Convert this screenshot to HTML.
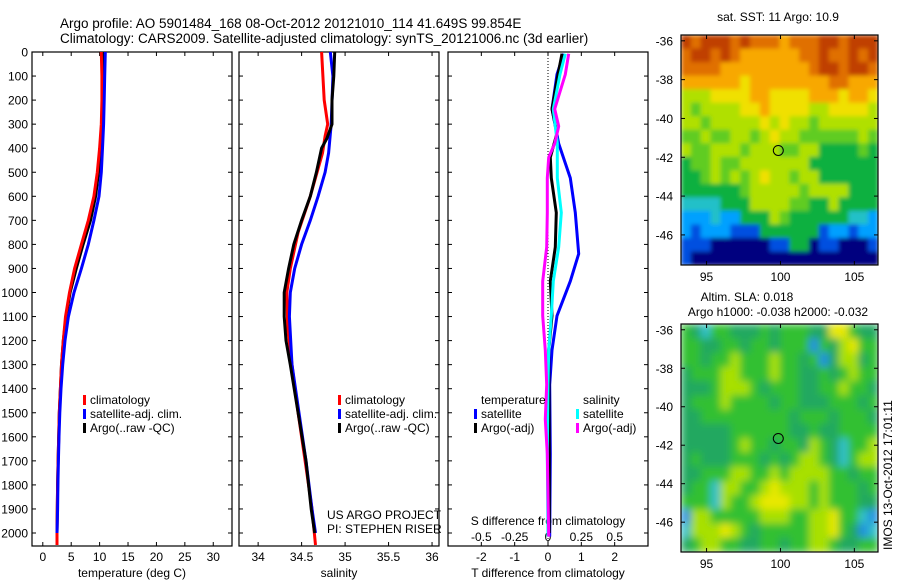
<!DOCTYPE html>
<html><head><meta charset="utf-8"><style>
html,body{margin:0;padding:0;background:#fff}
svg{display:block;font-family:"Liberation Sans",Arial,sans-serif}
</style></head><body>
<svg id="fig" width="900" height="580" viewBox="0 0 900 580" xmlns="http://www.w3.org/2000/svg">
<defs>
<filter id="blurSST" x="0" y="0" width="1" height="1"><feGaussianBlur stdDeviation="2"/></filter>
<filter id="blurSLA" x="0" y="0" width="1" height="1"><feGaussianBlur stdDeviation="4"/></filter>
<clipPath id="clipSST"><rect x="681" y="35" width="197" height="230"/></clipPath>
<clipPath id="clipSLA"><rect x="681" y="324" width="197" height="228"/></clipPath>
</defs>
<text x="60" y="28" font-size="13.5">Argo profile: AO 5901484_168 08-Oct-2012 20121010_114 41.649S 99.854E</text>
<text x="60" y="43" font-size="13.5">Climatology: CARS2009. Satellite-adjusted climatology: synTS_20121006.nc (3d earlier)</text>
<g id="g"></g>
</svg>
<script>
// ---------- data ----------
const tDepth=[0,100,200,300,400,500,600,700,800,900,1000,1100,1200,1300,1400,1500,1600,1700,1800,1900,2000,2050];
const tClim=[10.3,10.4,10.4,10.3,10.0,9.6,9.0,8.0,6.8,5.6,4.7,4.0,3.6,3.3,3.1,2.9,2.8,2.7,2.6,2.55,2.5,2.5];
const tSat=[11.0,10.9,10.8,10.7,10.5,10.3,9.9,9.0,8.0,6.8,5.5,4.5,3.9,3.5,3.2,3.0,2.85,2.75,2.65,2.6,2.5];
const tArgo=[10.6,10.7,10.6,10.5,10.2,9.8,9.3,8.4,7.1,5.9,4.8,4.1,3.6,3.3,3.1,2.9,2.8,2.7,2.6,2.55,2.5];
const sClimDepth=[0,200,300,350,420,600,750,900,1000,1150,1300,1500,1700,1900,2050];
const sClim=[34.73,34.76,34.80,34.77,34.74,34.60,34.46,34.37,34.33,34.34,34.39,34.46,34.54,34.62,34.66];
const sSatDepth=[0,100,300,420,500,600,700,800,900,1000,1100,1300,1500,1700,1900,2000];
const sSat=[34.83,34.86,34.84,34.81,34.77,34.69,34.60,34.50,34.42,34.37,34.36,34.39,34.47,34.55,34.62,34.66];
const sArgoDepth=[0,100,200,300,360,400,500,600,700,800,900,1000,1100,1200,1300,1500,1700,1900,2000];
const sArgo=[34.88,34.87,34.85,34.85,34.79,34.73,34.67,34.60,34.50,34.41,34.35,34.30,34.30,34.32,34.37,34.46,34.55,34.61,34.65];
const dTDepth=[7,93,237,381,524,668,839,953,1097,1240,1383,1670,2015];
const dTSat=[0.47,0.27,0.12,0.32,0.67,0.82,0.92,0.67,0.27,0.12,0.05,0.07,0.05];
const dTArgoDepth=[7,93,237,338,438,524,668,811,953,1097,1240,1383,1670,2000];
const dTArgo=[0.42,0.30,0.12,0.27,0.07,0.10,0.25,0.22,0.07,0.12,0.02,0.03,0.04,0.04];
const dSDepth=[7,93,237,381,524,668,811,953,1097,1240,1383,1670,2015];
const dSSat=[0.13,0.09,0.04,0.07,0.07,0.10,0.08,0.04,0.025,0.005,0,-0.005,0];
const dSArgoDepth=[7,93,237,309,381,438,524,668,811,953,1097,1240,1383,1527,1670,2015];
const dSArgo=[0.155,0.13,0.05,0.08,0.05,0.005,-0.005,-0.005,-0.01,-0.04,-0.04,-0.02,-0.01,-0.02,-0.005,0.005];
const depthTicks=[0,100,200,300,400,500,600,700,800,900,1000,1100,1200,1300,1400,1500,1600,1700,1800,1900,2000];
const tTicks=[0,5,10,15,20,25,30];
const sTicks=[34,34.5,35,35.5,36];
const dTTicks=[-2,-1,0,1,2];
const dSTicks=[-0.5,-0.25,0,0.25,0.5];
const latTicks=[-36,-38,-40,-42,-44,-46];
const lonTicks=[95,100,105];
const sstGrid=["a9aaa9a9998999aa9aaa","9aa9a988888899a99a9a","99998888888889aa9aa9","88888878888888899888","66677778877778887887","65666677877776677776","66566666767665666666","55655665676655555565","65566656665566444454","45565566666664444444","44565656766566444444","44444456666656666444","33334446666554464444","22232244465444444332","21222111444444122122","11100000011440110001","10000000000000000000"];
const slaGrid=["54355444545554477544","55445545545552546755","55455655565545246645","45556655565544545655","44456665455544556554","45556555545544455545","44555555555455545554","44444555555445445555","44444565545546543556","45444555454566543566","44555665565666655455","45536655676665655545","55536556777665655544","26655555666556675532","36667654555556675423","45665544554556654455"];
const argoLon=99.854, argoLat=-41.649;

// ---------- helpers ----------
const NS='http://www.w3.org/2000/svg';
const G=document.getElementById('g');
function mk(tag,attrs,parent){const e=document.createElementNS(NS,tag);for(const k in attrs)e.setAttribute(k,attrs[k]);(parent||G).appendChild(e);return e;}
function txt(x,y,s,size,anchor,parent){const e=mk('text',{x:x,y:y,'font-size':size||12,'text-anchor':anchor||'start'},parent);e.textContent=s;return e;}
const Y0=52,Y1=546,DMAX=2054;
const yD=d=>Y0+d*(Y1-Y0)/DMAX;
function lin(d0,d1,p0,p1){return v=>p0+(v-d0)*(p1-p0)/(d1-d0);}
const xT=lin(-1.9,33.3,32,232);
const xS=lin(33.78,36.08,239,439);
const xDT=lin(-3,3,448,648);
const xDS=v=>xDT(v*4);

function panel(name,x0,x1,xticks,xf,showY){
  const g=mk('g',{});
  
  
  mk('rect',{x:x0,y:Y0,width:x1-x0,height:Y1-Y0,fill:'none',stroke:'#000','stroke-width':1.2},g);
  depthTicks.forEach(d=>{const y=yD(d);
    mk('line',{x1:x0,y1:y,x2:x0+4,y2:y,stroke:'#000'},g);
    mk('line',{x1:x1,y1:y,x2:x1-4,y2:y,stroke:'#000'},g);
    if(showY){const t=txt(28,y+4.5,String(d),12,'end',g);}
  });
  xticks.forEach(v=>{const x=xf(v);
    mk('line',{x1:x,y1:Y0,x2:x,y2:Y0+4,stroke:'#000'},g);
    mk('line',{x1:x,y1:Y1,x2:x,y2:Y1-4,stroke:'#000'},g);
    const t=txt(x,561,String(v),12,'middle',g);
    
    
  });
  return g;
}
function series(name,depths,vals,xf,color){
  const pts=vals.map((v,i)=>xf(v).toFixed(1)+','+yD(depths[i]).toFixed(1)).join(' ');
  const p=mk('polyline',{points:pts,fill:'none',stroke:color,'stroke-width':3,'stroke-linejoin':'miter'});
  
  
}
function legend(items,x,y0){
  items.forEach((it,i)=>{const y=y0+i*14;
    const r=mk('rect',{x:x,y:y-9,width:3,height:10,fill:it[1]});
    
    
    const t=txt(x+7,y,it[0],12);
    
    
  });
}

// Panel 1 temperature
panel('temperature-panel',32,232,tTicks,xT,true);
let t=txt(132,577,'temperature (deg C)',12,'middle');
series('temp-argo-line',tDepth.slice(0,tArgo.length),tArgo,xT,'#000');
series('temp-climatology-line',tDepth,tClim,xT,'#f00');
series('temp-satellite-line',tDepth.slice(0,tSat.length),tSat,xT,'#00f');
legend([['climatology','#f00'],['satellite-adj. clim.','#00f'],['Argo(..raw -QC)','#000']],83,404);

// Panel 2 salinity
panel('salinity-panel',239,439,sTicks,xS,false);
t=txt(339,577,'salinity',12,'middle');
series('sal-climatology-line',sClimDepth,sClim,xS,'#f00');
series('sal-satellite-line',sSatDepth,sSat,xS,'#00f');
series('sal-argo-line',sArgoDepth,sArgo,xS,'#000');
legend([['climatology','#f00'],['satellite-adj. clim.','#00f'],['Argo(..raw -QC)','#000']],338,404);
t=txt(327,519,'US ARGO PROJECT',12);
t=txt(327,533,'PI: STEPHEN RISER',12);

// Panel 3 differences
panel('difference-panel',448,648,dTTicks,xDT,false);
mk('line',{x1:xDT(0),y1:Y0,x2:xDT(0),y2:Y1,stroke:'#000','stroke-dasharray':'1,2','stroke-width':1});
t=txt(548,577,'T difference from climatology',12,'middle');
t=txt(548,525,'S difference from climatology',12,'middle');
dSTicks.forEach(v=>{const e=txt(xDS(v),541,String(v),12,'middle');});
series('tdiff-satellite-line',dTDepth,dTSat,xDT,'#00f');
series('tdiff-argo-line',dTArgoDepth,dTArgo,xDT,'#000');
series('sdiff-satellite-line',dSDepth,dSSat,xDS,'#0ff');
series('sdiff-argo-line',dSArgoDepth,dSArgo,xDS,'#f0f');
t=txt(481,404,'temperature',12);
t=txt(583,404,'salinity',12);
legend([['satellite','#00f'],['Argo(-adj)','#000']],474,418);
legend([['satellite','#0ff'],['Argo(-adj)','#f0f']],576,418);

// Maps
const LON0=93.27,LON1=106.6,LAT0=-35.7,LAT1=-47.55;
const sstCol={'0':'#00007f','1':'#0050e0','2':'#00a0ff','3':'#20c0c8','4':'#10b040','5':'#60cc20','6':'#b0e000','7':'#f0e000','8':'#f8a800','9':'#e07000','a':'#c04000'};
const slaCol={'2':'#2090e0','3':'#30c0c8','4':'#20a860','5':'#30c030','6':'#a8e000','7':'#e8e800'};
function map(name,top,bot,grid,cols,filt,clip){
  const x0=681,x1=878;
  const g=mk('g',{});
  
  
  const cg=mk('g',{'clip-path':'url(#'+clip+')'},g);
  const fg=mk('g',{filter:'url(#'+filt+')'},cg);
  const rows=grid.length,ncol=grid[0].length,cw=(x1-x0)/ncol,ch=(bot-top)/rows;
  grid.forEach((r,i)=>{for(let j=0;j<ncol;j++){mk('rect',{x:(x0+j*cw).toFixed(2),y:(top+i*ch).toFixed(2),width:(cw+0.6).toFixed(2),height:(ch+0.6).toFixed(2),fill:cols[r[j]]},fg);}});
  mk('rect',{x:x0,y:top,width:x1-x0,height:bot-top,fill:'none',stroke:'#000','stroke-width':1.2},g);
  const xl=lin(LON0,LON1,x0,x1),yl=lin(LAT0,LAT1,top,bot);
  latTicks.forEach(v=>{const y=yl(v);mk('line',{x1:x0,y1:y,x2:x0+4,y2:y,stroke:'#000'},g);mk('line',{x1:x1,y1:y,x2:x1-4,y2:y,stroke:'#000'},g);
    const e=txt(673,y+4.5,String(v),12,'end',g);});
  lonTicks.forEach(v=>{const x=xl(v);mk('line',{x1:x,y1:top,x2:x,y2:top+4,stroke:'#000'},g);mk('line',{x1:x,y1:bot,x2:x,y2:bot-4,stroke:'#000'},g);
    const e=txt(x,bot+16,String(v),12,'middle',g);});
  const c=mk('ellipse',{cx:xl(argoLon),cy:yl(argoLat),rx:5,ry:5,fill:'none',stroke:'#000','stroke-width':1},g);
  
  
}
map('sst-map',35,265,sstGrid,sstCol,'blurSST','clipSST');
map('sla-map',324,552,slaGrid,slaCol,'blurSLA','clipSLA');
t=txt(778,21,'sat. SST: 11 Argo: 10.9',12,'middle');
t=txt(747,301,'Altim. SLA: 0.018',12,'middle');
t=txt(778,316,'Argo h1000: -0.038 h2000: -0.032',12,'middle');
t=txt(0,0,'IMOS 13-Oct-2012 17:01:11',12,'start');t.setAttribute('transform','translate(892,550) rotate(-90)');


</script>
</body></html>
